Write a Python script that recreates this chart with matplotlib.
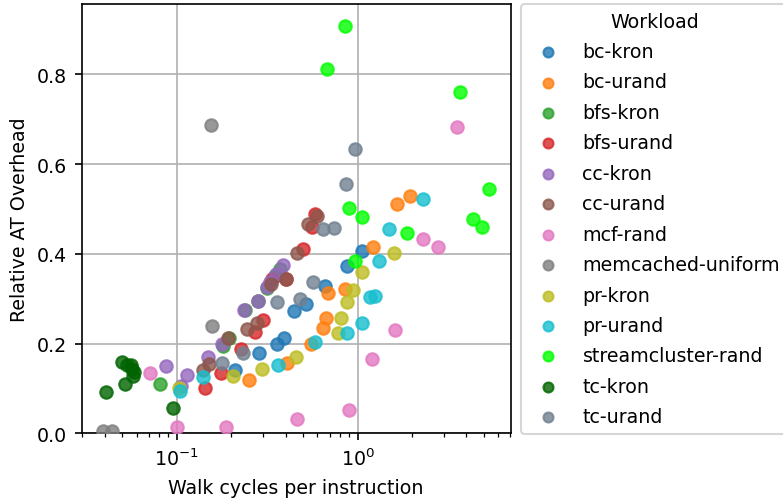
import numpy as np
from matplotlib import pyplot as plt

plt.rcParams['font.size'] = 9.15

workloads = ['bc-kron', 'bc-urand', 'bfs-kron', 'bfs-urand', 'cc-kron', 'cc-urand',
             'mcf-rand', 'memcached-uniform', 'pr-kron', 'pr-urand',
             'streamcluster-rand', 'tc-kron', 'tc-urand']
colors = ['tab:blue', 'tab:orange', 'tab:green', 'tab:red', 'tab:purple', 'tab:brown',
          'tab:pink', 'tab:gray', 'tab:olive', 'tab:cyan', 'lime', 'darkgreen', 'slategray']

# walk cycles per instruction
bc_kron_x = [0.209, 0.284, 0.358, 0.39, 0.443, 0.52, 0.66, 0.87, 1.06]
bc_urand_x = [0.25, 0.406, 0.55, 0.647, 0.67, 0.69, 0.85, 1.22, 1.65, 1.94]
bfs_kron_x = [0.081, 0.18, 0.195, 0.238, 0.283, 0.315, 0.35, 0.37]
bfs_urand_x = [0.144, 0.175, 0.228, 0.27, 0.30, 0.336, 0.404, 0.498, 0.557, 0.58]
cc_kron_x = [0.087, 0.105, 0.114, 0.148, 0.178, 0.236, 0.281, 0.315, 0.329, 0.352, 0.386]
cc_urand_x = [0.14, 0.15, 0.192, 0.245, 0.279, 0.33, 0.40, 0.46, 0.53, 0.595]
mcf_rand_x = [0.071, 0.1, 0.188, 0.46, 0.9, 1.2, 1.6, 2.29, 2.8, 3.54]
memcached_x = [0.039, 0.044, 0.154, 0.157]
pr_kron_x = [0.103, 0.205, 0.297, 0.458, 0.78, 0.81, 0.87, 0.94, 1.06, 1.59]
pr_urand_x = [0.104, 0.14, 0.362, 0.58, 0.87, 1.06, 1.17, 1.25, 1.31, 1.5, 2.29]
streamcluster_x = [0.68, 0.85, 0.9, 0.97, 1.06, 1.88, 3.7, 4.35, 4.87, 5.3]
tc_kron_x = [0.0407, 0.0515, 0.095, 0.0498, 0.0531, 0.056, 0.0565, 0.0577, 0.057]
tc_urand_x = [0.177, 0.231, 0.36, 0.482, 0.57, 0.647, 0.74, 0.86, 0.97]

# relative AT overhead
bc_kron_y = [0.141, 0.178, 0.2, 0.212, 0.272, 0.289, 0.329, 0.372, 0.406]
bc_urand_y = [0.118, 0.157, 0.198, 0.235, 0.258, 0.313, 0.322, 0.416, 0.511, 0.53]
bfs_kron_y = [0.109, 0.194, 0.213, 0.274, 0.294, 0.325, 0.35, 0.367]
bfs_urand_y = [0.102, 0.135, 0.187, 0.226, 0.252, 0.344, 0.344, 0.411, 0.459, 0.489]
cc_kron_y = [0.15, 0.105, 0.131, 0.17, 0.198, 0.276, 0.296, 0.327, 0.338, 0.355, 0.376]
cc_urand_y = [0.141, 0.154, 0.213, 0.232, 0.246, 0.333, 0.345, 0.402, 0.467, 0.484]
mcf_rand_y = [0.135, 0.013, 0.013, 0.033, 0.051, 0.165, 0.23, 0.434, 0.416, 0.682]
memcached_y = [0.006, 0.006, 0.687, 0.24]
pr_kron_y = [0.1, 0.127, 0.144, 0.17, 0.224, 0.258, 0.293, 0.32, 0.359, 0.402]
pr_urand_y = [0.095, 0.126, 0.152, 0.204, 0.224, 0.246, 0.305, 0.307, 0.385, 0.456, 0.522]
streamcluster_y = [0.813, 0.909, 0.503, 0.384, 0.483, 0.447, 0.762, 0.478, 0.459, 0.544]
tc_kron_y = [0.093, 0.111, 0.057, 0.158, 0.153, 0.152, 0.143, 0.136, 0.128]
tc_urand_y = [0.157, 0.178, 0.293, 0.3, 0.338, 0.456, 0.458, 0.556, 0.633]

xs = [bc_kron_x, bc_urand_x, bfs_kron_x, bfs_urand_x, cc_kron_x, cc_urand_x, mcf_rand_x,
      memcached_x, pr_kron_x, pr_urand_x, streamcluster_x, tc_kron_x, tc_urand_x]
ys = [bc_kron_y, bc_urand_y, bfs_kron_y, bfs_urand_y, cc_kron_y, cc_urand_y, mcf_rand_y,
      memcached_y, pr_kron_y, pr_urand_y, streamcluster_y, tc_kron_y, tc_urand_y]

fig = plt.figure(figsize=(5.22, 3.333), dpi=150)
ax = fig.add_axes([0.1043, 0.1314, 0.548, 0.8586])

for name, c, x, y in zip(workloads, colors, xs, ys):
    ax.scatter(x, y, color=c, alpha=0.8, label=name, zorder=3)

ax.set_xscale('log')
ax.set_xlim(0.0298, 7.03)
ax.set_ylim(0, 0.957)
ax.grid(True)
ax.set_axisbelow(True)
ax.set_xlabel('Walk cycles per instruction')
ax.set_ylabel('Relative AT Overhead')
ax.legend(title='Workload', loc='upper left', bbox_to_anchor=(1.025, 1.0),
          borderaxespad=0, markerscale=0.8, labelspacing=0.6)

fig.savefig('out.png', dpi=150)
